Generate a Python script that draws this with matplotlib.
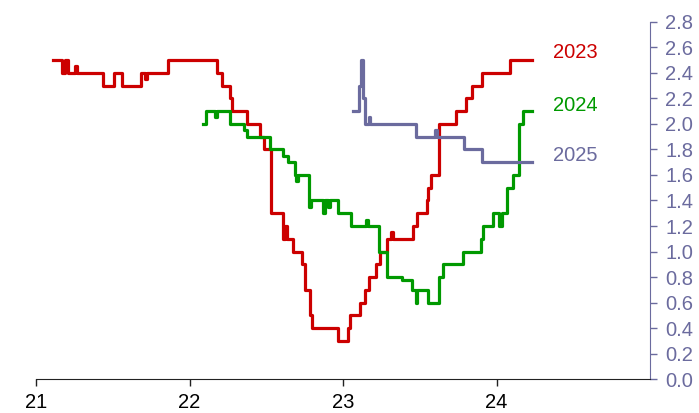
import matplotlib.pyplot as plt

# Series as step points: x in years (21 = 2021), values in percent
x_2023 = [21.109, 21.167, 21.192, 21.208, 21.257, 21.267, 21.435, 21.508, 21.558,
          21.684, 21.713, 21.726, 21.860, 22.177, 22.210, 22.261, 22.277, 22.375,
          22.459, 22.485, 22.531, 22.611, 22.625, 22.635, 22.672, 22.731, 22.752,
          22.785, 22.796, 22.969, 23.035, 23.046, 23.111, 23.143, 23.169, 23.215,
          23.241, 23.285, 23.313, 23.326, 23.458, 23.480, 23.545, 23.556, 23.571,
          23.627, 23.736, 23.801, 23.838, 23.904, 24.088, 24.229]
y_2023 = [2.5, 2.4, 2.5, 2.4, 2.45, 2.4, 2.3, 2.4, 2.3,
          2.4, 2.35, 2.4, 2.5, 2.4, 2.3, 2.2, 2.1, 2.0,
          1.9, 1.8, 1.3, 1.1, 1.2, 1.1, 1.0, 0.9, 0.7,
          0.5, 0.4, 0.3, 0.4, 0.5, 0.6, 0.7, 0.8, 0.9,
          1.0, 1.1, 1.15, 1.1, 1.2, 1.3, 1.4, 1.5, 1.6,
          2.0, 2.1, 2.2, 2.3, 2.4, 2.5, 2.5]

x_2024 = [22.086, 22.107, 22.166, 22.179, 22.264, 22.355, 22.373, 22.524, 22.611,
          22.644, 22.687, 22.695, 22.708, 22.780, 22.791, 22.870, 22.885, 22.905,
          22.918, 22.969, 23.052, 23.150, 23.160, 23.236, 23.285, 23.382, 23.448,
          23.474, 23.483, 23.556, 23.627, 23.650, 23.780, 23.897, 23.910, 23.975,
          24.016, 24.034, 24.070, 24.105, 24.149, 24.171, 24.229]
y_2024 = [2.0, 2.1, 2.05, 2.1, 2.0, 1.95, 1.9, 1.8, 1.75,
          1.7, 1.6, 1.55, 1.6, 1.35, 1.4, 1.3, 1.4, 1.35,
          1.4, 1.3, 1.2, 1.25, 1.2, 1.0, 0.8, 0.78, 0.7,
          0.6, 0.7, 0.6, 0.8, 0.9, 1.0, 1.1, 1.2, 1.3,
          1.2, 1.3, 1.5, 1.6, 2.0, 2.1, 2.1]

x_2025 = [23.063, 23.106, 23.120, 23.130, 23.140, 23.166, 23.176, 23.476, 23.599,
          23.609, 23.788, 23.904, 24.229]
y_2025 = [2.1, 2.3, 2.5, 2.2, 2.0, 2.05, 2.0, 1.9, 1.95,
          1.9, 1.8, 1.7, 1.7]

series = [('2023', x_2023, y_2023, '#cc0000', 2.56),
          ('2024', x_2024, y_2024, '#009900', 2.14),
          ('2025', x_2025, y_2025, '#6b6b9e', 1.75)]

x_ticks = [21, 22, 23, 24]
x_ticklabels = ['21', '22', '23', '24']
y_ticks = [0.0, 0.2, 0.4, 0.6, 0.8, 1.0, 1.2, 1.4, 1.6, 1.8, 2.0, 2.2, 2.4, 2.6, 2.8]

axis_purple = '#6b6b9e'

plt.rcParams['font.family'] = ['Liberation Sans', 'DejaVu Sans']

fig = plt.figure(figsize=(6.99, 4.13), dpi=100)
ax = fig.add_axes([0.0515, 0.0816, 0.8785, 0.8659])

for name, xs, ys, color, label_y in series:
    ax.plot(xs, ys, drawstyle='steps-post', color=color, lw=2.3)
    ax.text(24.37, label_y, name, color=color, fontsize=14.5, ha='left', va='center')

ax.set_xlim(21, 25)
ax.set_ylim(0, 2.8)

ax.spines['left'].set_visible(False)
ax.spines['top'].set_visible(False)
ax.spines['bottom'].set_color('#222222')
ax.spines['right'].set_color(axis_purple)

ax.set_xticks(x_ticks)
ax.set_xticklabels(x_ticklabels)
ax.tick_params(axis='x', direction='out', length=5, width=1, color='#222222',
               labelsize=14.5, pad=5)

ax.yaxis.tick_right()
ax.set_yticks(y_ticks)
ax.set_yticklabels([f'{v:.1f}' for v in y_ticks])
ax.tick_params(axis='y', direction='out', length=5, width=1, color=axis_purple,
               labelcolor=axis_purple, labelsize=14.5, pad=6)

fig.savefig('out.png', dpi=100)
